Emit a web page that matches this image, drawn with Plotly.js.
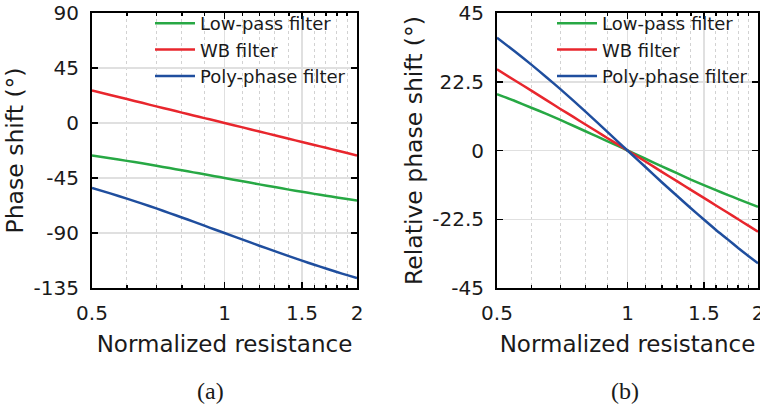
<!DOCTYPE html>
<html>
<head>
<meta charset="utf-8">
<script src="https://cdn.plot.ly/plotly-3.0.1.min.js"></script>
<style>html,body{margin:0;padding:0;background:#fff;}#chart{width:760px;height:406px;}</style>
</head>
<body>
<div id="chart"></div>
<script>
// Normalized resistance
const resistance = [0.5,0.55,0.6,0.65,0.7,0.75,0.8,0.85,0.9,0.95,1.0,1.1,1.2,1.3,1.4,1.5,1.6,1.7,1.8,1.9,2.0];
// (a) Phase shift (deg)
const lowPass = [-26.6,-28.8,-31.0,-33.0,-35.0,-36.9,-38.7,-40.4,-42.0,-43.5,-45.0,-47.7,-50.2,-52.4,-54.5,-56.3,-58.0,-59.5,-60.9,-62.2,-63.4];
const wbFilter = [26.6,22.9,19.6,16.5,13.6,11.0,8.5,6.2,4.0,2.0,0.0,-3.6,-7.0,-10.0,-12.9,-15.5,-18.0,-20.3,-22.5,-24.6,-26.6];
const polyPhase = [-53.1,-57.6,-61.9,-66.0,-69.9,-73.7,-77.3,-80.7,-84.0,-87.1,-90.0,-95.4,-100.4,-104.8,-108.9,-112.6,-116.0,-119.0,-121.9,-124.5,-126.9];
// (b) Relative phase shift (deg)
const relLowPass = [18.4,16.2,14.0,12.0,10.0,8.1,6.3,4.6,3.0,1.5,0.0,-2.7,-5.2,-7.4,-9.5,-11.3,-13.0,-14.5,-15.9,-17.2,-18.4];
const relWB = [26.6,22.9,19.6,16.5,13.6,11.0,8.5,6.2,4.0,2.0,0.0,-3.6,-7.0,-10.0,-12.9,-15.5,-18.0,-20.3,-22.5,-24.6,-26.6];
const relPolyPhase = [36.9,32.4,28.1,24.0,20.1,16.3,12.7,9.3,6.0,2.9,0.0,-5.4,-10.4,-14.8,-18.9,-22.6,-26.0,-29.0,-31.9,-34.5,-36.9];

const seriesNames = ["Low-pass filter","WB filter","Poly-phase filter"];
const xTicks = [0.5,1,1.5,2];
const xTickText = ["0.5","1","1.5","2"];
const xMinor = [0.6,0.7,0.8,0.9,1.1,1.2,1.3,1.4,1.6,1.7,1.8,1.9];
const yTicksA = [-135,-90,-45,0,45,90];
const yTickTextA = ["-135","-90","-45","0","45","90"];
const yTicksB = [-45,-22.5,0,22.5,45];
const yTickTextB = ["-45","-22.5","0","22.5","45"];

const colors = ["#27a844","#e8262d","#1f4e9e"];
const FONT = "DejaVu Sans, Arial, sans-serif";
const TXT = "#1a1a1a";

function mk(y, i, xa, ya, leg) {
  return {x: resistance, y: y, type: "scatter", mode: "lines", name: seriesNames[i],
    xaxis: xa, yaxis: ya, legend: leg,
    line: {color: colors[i], width: 2.5, shape: "spline", smoothing: 0.5}};
}
const traces = [
  mk(lowPass,0,"x","y","legend"), mk(wbFilter,1,"x","y","legend"), mk(polyPhase,2,"x","y","legend"),
  mk(relLowPass,0,"x2","y2","legend2"), mk(relWB,1,"x2","y2","legend2"), mk(relPolyPhase,2,"x2","y2","legend2")
];

function xaxis(dom, anchor) {
  return {domain: dom, anchor: anchor, type: "log", range: [Math.log10(0.5), Math.log10(2) + 1e-9],
    tickmode: "array", tickvals: xTicks, ticktext: xTickText,
    ticks: "inside", ticklen: 6, tickwidth: 1.5, tickcolor: "#000",
    showline: true, linecolor: "#000", linewidth: 2, mirror: "ticks",
    showgrid: true, gridcolor: "#e0e0e0", gridwidth: 1.5, zeroline: false,
    minor: {tickmode: "array", tickvals: xMinor, ticks: "inside", ticklen: 3, tickcolor: "#000",
      showgrid: true, gridcolor: "#d2d2d2", griddash: "dot", gridwidth: 1},
    tickfont: {family: FONT, size: 20, color: TXT}, ticklabelstandoff: 6, ticklabeloverflow: "allow",
    title: {text: "Normalized resistance", font: {family: FONT, size: 23, color: TXT}, standoff: 12}};
}
function yaxis(dom, anchor, vals, text, title) {
  return {domain: dom, anchor: anchor, range: [vals[0], vals[vals.length-1]],
    tickmode: "array", tickvals: vals, ticktext: text,
    ticks: "inside", ticklen: 6, tickwidth: 1.5, tickcolor: "#000",
    showline: true, linecolor: "#000", linewidth: 2, mirror: "ticks",
    showgrid: true, gridcolor: "#e0e0e0", gridwidth: 1.5, zeroline: false,
    tickfont: {family: FONT, size: 20, color: TXT}, ticklabelstandoff: 7,
    title: {text: title, font: {family: FONT, size: 23.5, color: TXT}, standoff: 3}};
}
const yDom = [1-288/406, 1-13/406];
const legendBase = {bgcolor: "rgba(0,0,0,0)", borderwidth: 0,
  itemwidth: 40, font: {family: FONT, size: 18, color: TXT}, xanchor: "left", yanchor: "top"};

const layout = {
  width: 760, height: 406, margin: {l: 0, r: 0, t: 0, b: 0},
  paper_bgcolor: "#fff", plot_bgcolor: "#fff", showlegend: true,
  xaxis: xaxis([92/760, 357/760], "y"),
  yaxis: yaxis(yDom, "x", yTicksA, yTickTextA, "Phase shift (°)"),
  xaxis2: xaxis([497/760, 758/760], "y2"),
  yaxis2: yaxis(yDom, "x2", yTicksB, yTickTextB, "Relative phase shift (°)"),
  legend: Object.assign({}, legendBase, {x: 150/760, y: 1-5/406}),
  legend2: Object.assign({}, legendBase, {x: 552/760, y: 1-5/406}),
  annotations: [
    {text: "(a)", xref: "paper", yref: "paper", x: 211/760, y: 1-391/406, xanchor: "center", yanchor: "middle",
     showarrow: false, font: {family: "Liberation Serif, Times New Roman, serif", size: 24, color: TXT}},
    {text: "(b)", xref: "paper", yref: "paper", x: 625/760, y: 1-391/406, xanchor: "center", yanchor: "middle",
     showarrow: false, font: {family: "Liberation Serif, Times New Roman, serif", size: 24, color: TXT}}
  ]
};
Plotly.newPlot("chart", traces, layout, {staticPlot: true, displayModeBar: false});
</script>
</body>
</html>
